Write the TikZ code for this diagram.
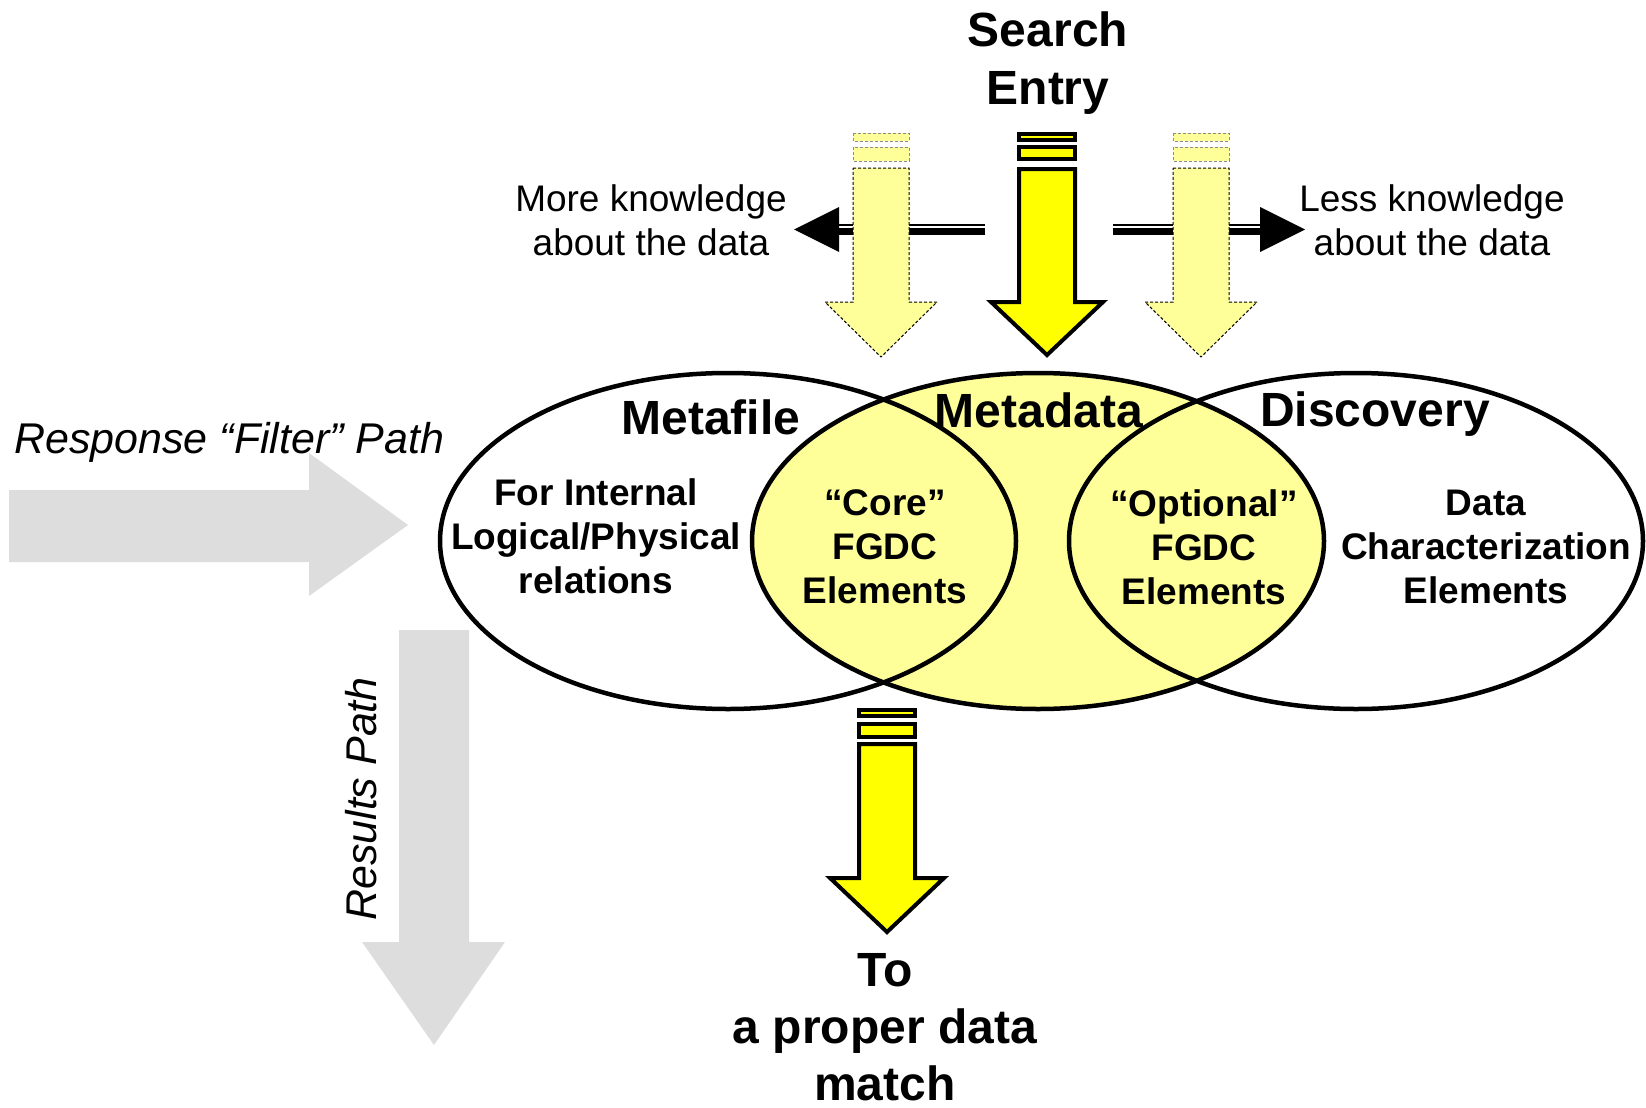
\documentclass[tikz,border=0pt]{standalone}
\usepackage{fontspec}
\setmainfont{Liberation Sans}
\definecolor{brightyellow}{HTML}{FFFF00}
\definecolor{paleyellow}{HTML}{FFFF99}
\definecolor{pathgray}{HTML}{DDDDDD}
\tikzset{
  vennline/.style={draw=black, line width=4.5pt},
  bigarrow/.style={draw=black, fill=brightyellow, line width=4pt, line join=miter},
  faintarrow/.style={draw=black, fill=paleyellow, line width=1pt, dash pattern=on 3pt off 2pt},
  faintbar/.style={draw=black!45, fill=paleyellow, line width=1pt, dash pattern=on 3pt off 2pt},
  grayarrow/.style={fill=pathgray, draw=none},
  titletext/.style={font=\bfseries\fontsize{48}{58}\selectfont, inner sep=0pt, align=center},
  bodytext/.style={font=\bfseries\fontsize{37}{44}\selectfont, inner sep=0pt, align=center},
  plaintext/.style={font=\fontsize{37}{44}\selectfont, inner sep=0pt, align=center},
  pathtext/.style={font=\itshape\fontsize{43}{50}\selectfont, inner sep=0pt},
}
\begin{document}
\begin{tikzpicture}[x=1pt, y=-1pt]
\useasboundingbox (0,0) rectangle (1646,1108);

% gray paths
\fill[grayarrow] (9,490) -- (309,490) -- (309,453) -- (408,525) -- (309,596) -- (309,562) -- (9,562) -- cycle;
\fill[grayarrow] (399,630) -- (469,630) -- (469,942) -- (505,942) -- (434,1045) -- (362,942) -- (399,942) -- cycle;

% venn
\fill[paleyellow] (1038,541) ellipse [x radius=286, y radius=168];
\draw[vennline] (728,541) ellipse [x radius=288, y radius=168];
\draw[vennline] (1038,541) ellipse [x radius=286, y radius=168];
\draw[vennline] (1356,541) ellipse [x radius=287, y radius=168];

% horizontal knowledge arrows
\draw[line width=2pt] (985,225) -- (839,225);
\draw[line width=7pt] (985,231.5) -- (839,231.5);
\fill (839,207) -- (794,229.5) -- (839,252) -- cycle;
\draw[line width=2pt] (1113,225) -- (1260,225);
\draw[line width=7pt] (1113,231.5) -- (1260,231.5);
\fill (1260,207) -- (1305,229.5) -- (1260,252) -- cycle;

% faint arrows
\draw[faintbar] (853,133) rectangle (909,141);
\draw[faintbar] (853,147) rectangle (909,161);
\draw[faintarrow] (853,168) -- (909,168) -- (909,302) -- (937,302) -- (881,357) -- (825,302) -- (853,302) -- cycle;
\draw[faintbar] (1173,133) rectangle (1229,141);
\draw[faintbar] (1173,147) rectangle (1229,161);
\draw[faintarrow] (1173,168) -- (1229,168) -- (1229,302) -- (1257,302) -- (1201,357) -- (1145,302) -- (1173,302) -- cycle;

% central search arrow
\draw[bigarrow] (1019,134) rectangle (1075,140);
\draw[bigarrow] (1019,147) rectangle (1075,159);
\draw[bigarrow] (1019,169) -- (1075,169) -- (1075,302) -- (1103,302) -- (1047,355) -- (991,302) -- (1019,302) -- cycle;

% bottom result arrow
\draw[bigarrow] (859,710) rectangle (915,716);
\draw[bigarrow] (859,724) rectangle (915,737);
\draw[bigarrow] (859,744) -- (915,744) -- (915,878) -- (944,878) -- (887,932) -- (830,878) -- (859,878) -- cycle;

% texts
\node[titletext] (search) at (1048,63) {Search\\Entry};
\node[plaintext] (more) at (651,220) {More knowledge\\about the data};
\node[plaintext] (less) at (1432,220) {Less knowledge\\about the data};
\node[pathtext, anchor=west] (resp) at (14,442) {Response “Filter” Path};
\node[pathtext, rotate=90] (res) at (361,799) {Results Path};
\node[titletext] (metafile) at (711,417) {Metafile};
\node[titletext] (metadata) at (1039,410) {Metadata};
\node[titletext] (discovery) at (1375,414) {Discovery};
\node[bodytext] (internal) at (596,536) {For Internal\\Logical/Physical\\relations};
\node[bodytext] (core) at (885,547) {“Core”\\FGDC\\Elements};
\node[bodytext] (optional) at (1204,547) {“Optional”\\FGDC\\Elements};
\node[bodytext] (datachar) at (1486,547) {Data\\Characterization\\Elements};
\node[titletext, font=\bfseries\fontsize{48}{57}\selectfont] (to) at (885,1027) {To\\a proper data\\match};
\end{tikzpicture}
\end{document}
